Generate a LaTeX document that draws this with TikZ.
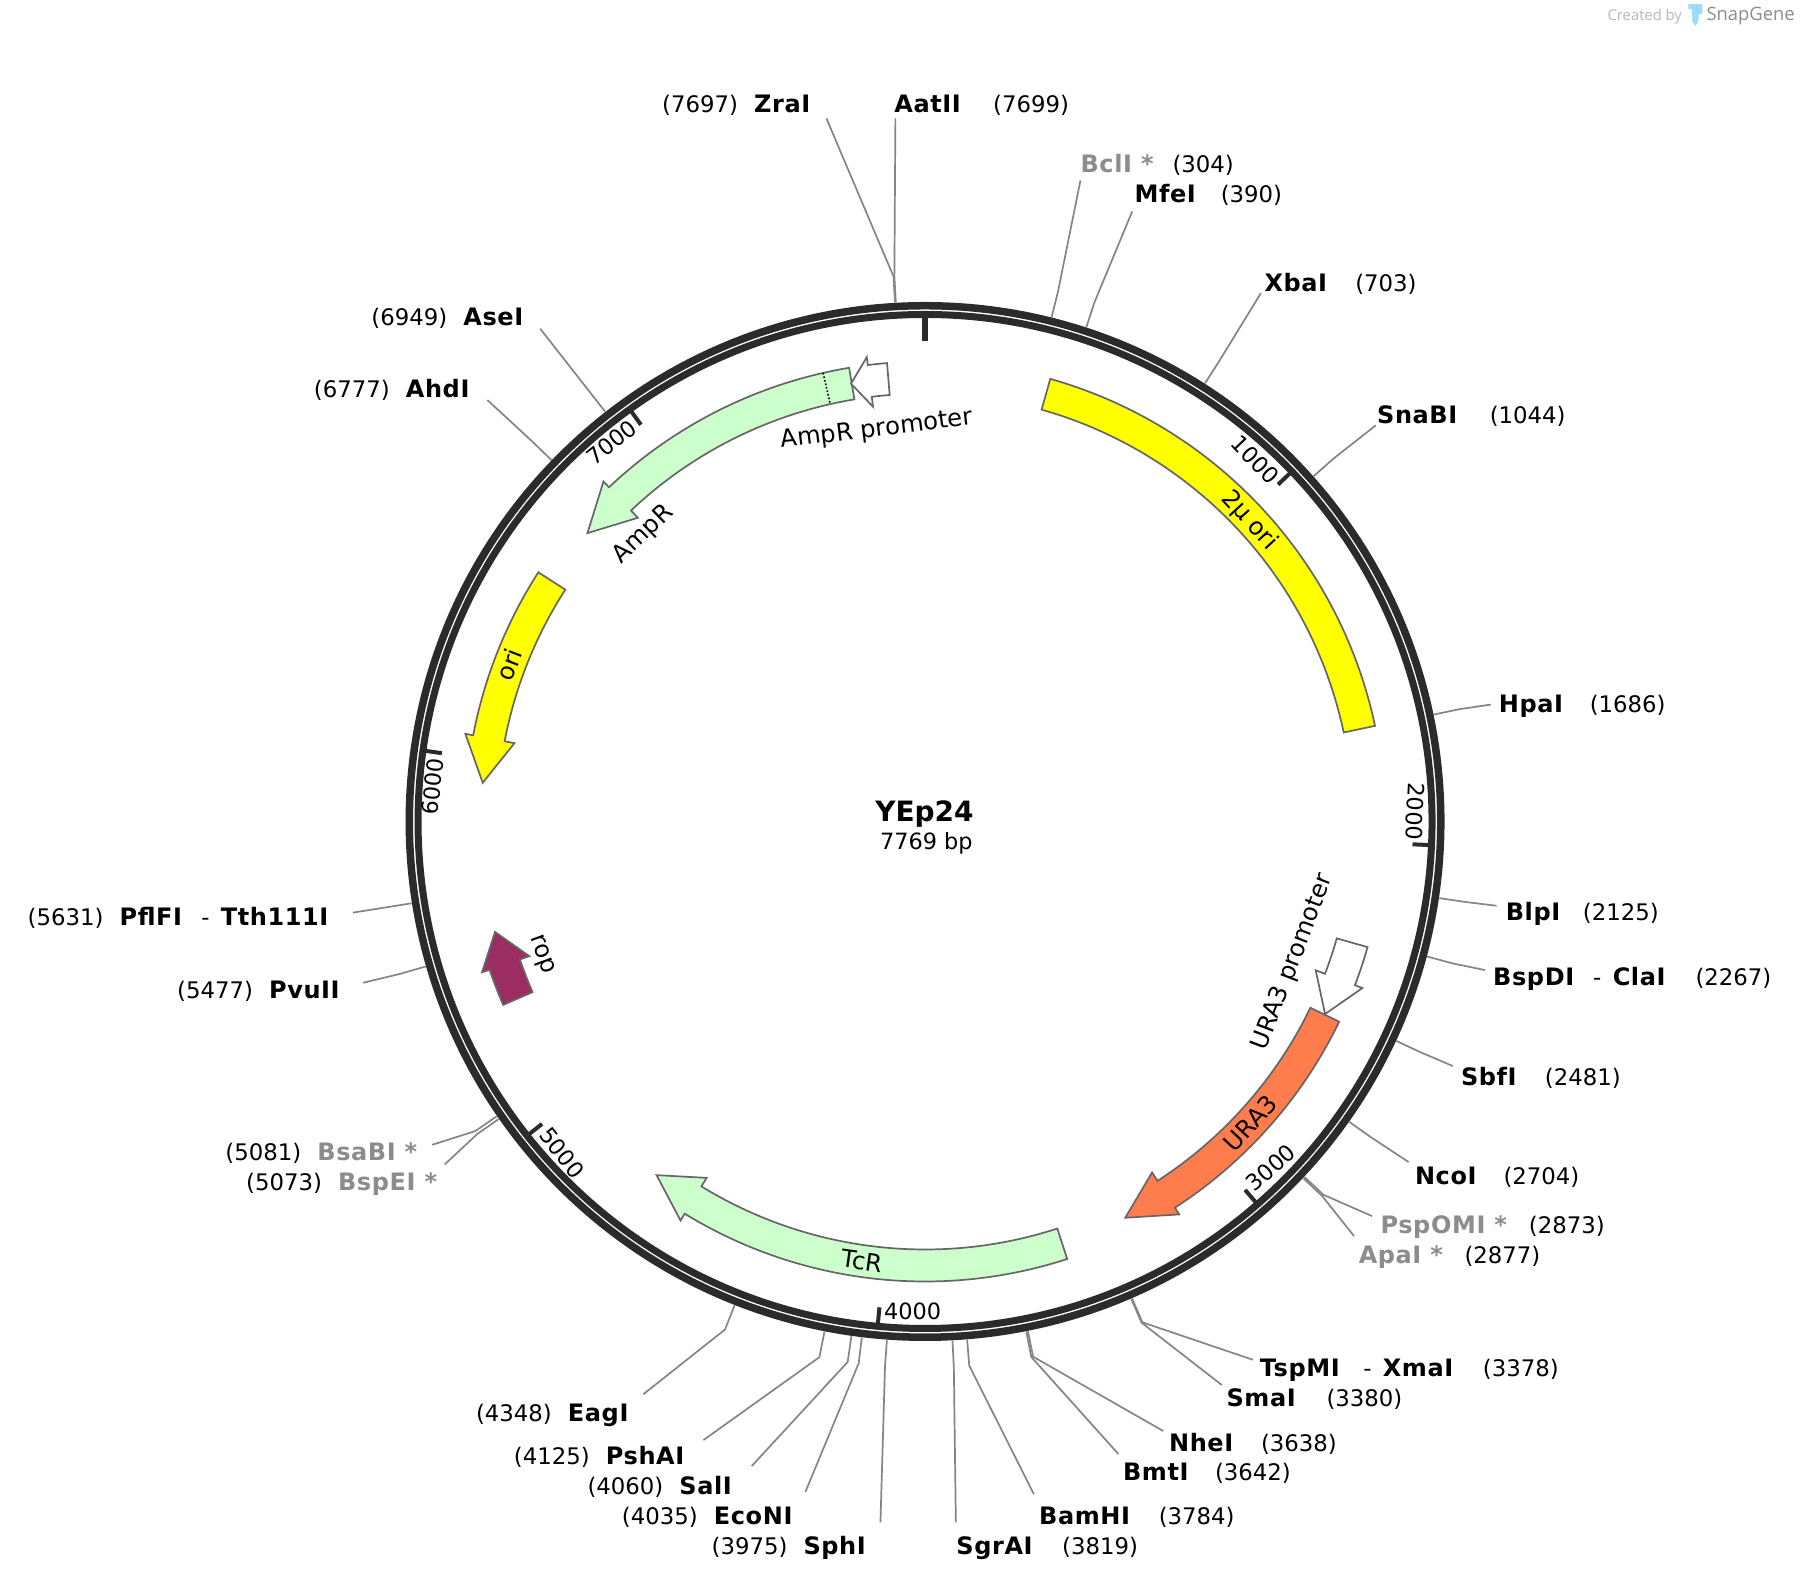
\documentclass[tikz,border=0pt]{standalone}
\usepackage{fontspec}
\setmainfont{DejaVu Sans}
\newfontfamily\enzfont[LetterSpace=2.5]{DejaVu Sans}
\newfontfamily\logofont{Open Sans}
\definecolor{ringc}{HTML}{2B2B2B}
\definecolor{linec}{HTML}{858585}
\definecolor{edgec}{HTML}{666666}
\definecolor{greyname}{HTML}{8C8C8C}
\definecolor{featgreen}{HTML}{CCFFCC}
\definecolor{featyellow}{HTML}{FFFF00}
\definecolor{featpurple}{HTML}{9C2D62}
\definecolor{featorange}{HTML}{FF7D4D}
\definecolor{logoblue}{HTML}{9BDCFA}
\tikzset{
  polar/.style={shift={(804.8,714.7)},x={(0pt,1pt)},y={(1pt,0pt)}},
  siteline/.style={draw=linec,line width=1.7pt,line join=round},
  featline/.style={draw=edgec,line width=1.7pt,line join=miter},
  ringline/.style={draw=ringc},
  tickline/.style={draw=ringc,line width=4pt},
  enz/.style={anchor=mid west,inner sep=0pt,xshift=-1.2pt,yshift=-4.7pt,font=\enzfont\fontsize{24}{26}\selectfont\bfseries},
  enzg/.style={enz,text=greyname},
  num/.style={anchor=mid west,inner sep=0pt,xshift=-1.2pt,yshift=-4.7pt,font=\fontsize{22.8}{26}\selectfont},
  ticktxt/.style={inner sep=0pt,font=\fontsize{22.4}{26}\selectfont},
  feattxt/.style={inner sep=0pt,font=\fontsize{24.3}{26}\selectfont},
}
\newcommand\site[4]{%
  \coordinate (#1E) at (#3,#4);
  \begin{scope}[polar]
    \coordinate (#1S) at ({0.046338*#2}:520);
    \coordinate (#1B) at ({0.046338*#2}:546);
  \end{scope}
  \draw[siteline] (#1S) -- (#1B) -- (#1E);}
\newcommand\gfeat[4]{%
  \draw[featline,fill=#4] (#1:460) arc[start angle=#1,end angle=#2,radius=460]
    -- (#2:468) -- (#3:444) -- (#2:418) -- (#2:428)
    arc[start angle=#2,end angle=#1,radius=428] -- cycle;}
\begin{document}
\begin{tikzpicture}[x=1.1494pt,y=-1.1494pt]
\useasboundingbox (0,0) rectangle (1566.03,1376.4);
\fill[white] (0,0) rectangle (1566.03,1376.4);
% restriction site lines
\site{zra}{7697}{719}{103}
\site{aat}{7699}{779}{103}
\site{bcl}{304}{940}{157}
\site{mfe}{390}{985}{184}
\site{xba}{703}{1097}{255}
\site{sna}{1044}{1197}{370}
\site{hpa}{1686}{1297}{613}
\site{blp}{2125}{1302}{788}
\site{bsp}{2267}{1292}{844}
\site{sbf}{2481}{1264}{927.5}
\site{nco}{2704}{1225.5}{1011}
\site{psp}{2873}{1193.7}{1058}
\site{apa}{2877}{1178}{1075.4}
\site{tsp}{3378}{1090}{1183}
\site{sma}{3380}{1063}{1205}
\site{nhe}{3638}{1012}{1245}
\site{bmt}{3642}{973}{1265}
\site{bam}{3784}{899.5}{1300}
\site{sgr}{3819}{831.6}{1324.4}
\site{sph}{3975}{766}{1324.4}
\site{eco}{4035}{700.7}{1298}
\site{sal}{4060}{654}{1275.5}
\site{psh}{4125}{612}{1252.9}
\site{eag}{4348}{559.7}{1213}
\site{bse}{5073}{387}{1013}
\site{bsa}{5081}{376}{996}
\site{pvu}{5477}{316}{855}
\site{pfl}{5631}{307}{794}
\site{ahd}{6777}{424}{348}
\site{ase}{6949}{470}{286}
% backbone, ticks and features
\begin{scope}[polar]
  \draw[ringline,line width=7.5pt] (0,0) circle[radius=515.75pt];
  \draw[ringline,line width=7pt] (0,0) circle[radius=507pt];
  \draw[ringc,line width=6pt] (0:505) -- (0:480);
  \foreach \p in {1000,2000,3000,4000,5000,6000,7000}
    \draw[tickline] ({0.046338*\p}:505) -- ({0.046338*\p}:488);
  \draw[featline,fill=featyellow] (15.8:460) arc[start angle=15.8,end angle=78,radius=460]
     -- (78:428) arc[start angle=78,end angle=15.8,radius=428] -- cycle;
  \gfeat{-9.5}{-43.4}{-49.5}{featgreen}
  \draw[black,line width=1.6pt,dotted] (-12.8:460) -- (-12.8:428);
  \gfeat{-4.74}{-7.15}{-9.6}{white}
  \gfeat{-57.2}{-79.2}{-85}{featyellow}
  \gfeat{246.5}{251.2}{255.6}{featpurple}
  \gfeat{162}{211.5}{217.2}{featgreen}
  \gfeat{115.8}{147.1}{153.2}{featorange}
  \gfeat{105.85}{110.85}{115.7}{white}
\end{scope}
% tick labels
\node[ticktxt,rotate=-46.3] (t1) at (1092,400) {1000};
\node[ticktxt,rotate=-92.7] (t2) at (1231,706) {2000};
\node[ticktxt,rotate=41] (t3) at (1105.6,1016) {3000};
\node[ticktxt] (t4) at (794,1141) {4000};
\node[ticktxt,rotate=-51.7] (t5) at (489,1003) {5000};
\node[ticktxt,rotate=84] (t6) at (376.5,684.5) {6000};
\node[ticktxt,rotate=38] (t7) at (532,385) {7000};
% feature labels
\node[feattxt,rotate=-47.4] (f1) at (1087,453) {2µ ori};
\node[feattxt,rotate=69] (f2) at (443,578) {ori};
\node[feattxt,rotate=47.2] (f3) at (1088,977) {URA3};
\node[feattxt,rotate=-8] (f4) at (750,1097) {TcR};
\node[feattxt,rotate=-70] (f5) at (471,831) {rop};
\node[feattxt,rotate=44] (f6) at (560,465) {AmpR};
\node[feattxt,rotate=7] (f7) at (763,374) {AmpR promoter};
\node[feattxt,rotate=69] (f8) at (1125,837) {URA3 promoter};
% centre
\node[inner sep=0pt,font=\fontsize{28}{30}\selectfont\bfseries] (title) at (804.3,708.5) {YEp24};
\node[inner sep=0pt,font=\fontsize{22.4}{26}\selectfont] (size) at (806,734) {7769 bp};
% enzyme labels
\node[num] (n1) at (577,91) {(7697)}; \node[enz] (e1) at (657,91) {ZraI};
\node[enz] (e2) at (779,91) {AatII}; \node[num] (n2) at (865,91) {(7699)};
\node[enzg] (e3) at (941,144) {BclI *}; \node[num] (n3) at (1021,144) {(304)};
\node[enz] (e4) at (988,170) {MfeI}; \node[num] (n4) at (1063,170) {(390)};
\node[enz] (e5) at (1101,247) {XbaI}; \node[num] (n5) at (1180,247) {(703)};
\node[enz] (e6) at (1199,362) {SnaBI}; \node[num] (n6) at (1297,362) {(1044)};
\node[enz] (e7) at (1305,613) {HpaI}; \node[num] (n7) at (1384,613) {(1686)};
\node[enz] (e8) at (1311,794) {BlpI}; \node[num] (n8) at (1378,794) {(2125)};
\node[enz] (e9) at (1300,851) {BspDI}; \node[num] (d9) at (1387,851) {-}; \node[enz] (e9b) at (1404,851) {ClaI}; \node[num] (n9) at (1476,851) {(2267)};
\node[enz] (e10) at (1272,938) {SbfI}; \node[num] (n10) at (1345,938) {(2481)};
\node[enz] (e11) at (1232,1024) {NcoI}; \node[num] (n11) at (1309,1024) {(2704)};
\node[enzg] (e12) at (1202,1067) {PspOMI *}; \node[num] (n12) at (1331,1067) {(2873)};
\node[enzg] (e13) at (1183,1093) {ApaI *}; \node[num] (n13) at (1275,1093) {(2877)};
\node[enz] (e14) at (1097,1191) {TspMI}; \node[num] (d14) at (1187,1191) {-}; \node[enz] (e14b) at (1204,1191) {XmaI}; \node[num] (n14) at (1291,1191) {(3378)};
\node[enz] (e15) at (1068,1217) {SmaI}; \node[num] (n15) at (1155,1217) {(3380)};
\node[enz] (e16) at (1018,1256) {NheI}; \node[num] (n16) at (1098,1256) {(3638)};
\node[enz] (e17) at (978,1282) {BmtI}; \node[num] (n17) at (1058,1282) {(3642)};
\node[enz] (e18) at (905,1320) {BamHI}; \node[num] (n18) at (1009,1320) {(3784)};
\node[enz] (e19) at (833,1346) {SgrAI}; \node[num] (n19) at (925,1346) {(3819)};
\node[num] (n20) at (620,1346) {(3975)}; \node[enz] (e20) at (700,1346) {SphI};
\node[num] (n21) at (542,1320) {(4035)}; \node[enz] (e21) at (622,1320) {EcoNI};
\node[num] (n22) at (512,1294) {(4060)}; \node[enz] (e22) at (592,1294) {SalI};
\node[num] (n23) at (448,1268) {(4125)}; \node[enz] (e23) at (528,1268) {PshAI};
\node[num] (n24) at (415,1230) {(4348)}; \node[enz] (e24) at (495,1230) {EagI};
\node[num] (n25) at (215,1029) {(5073)}; \node[enzg] (e25) at (295,1029) {BspEI *};
\node[num] (n26) at (197,1003) {(5081)}; \node[enzg] (e26) at (277,1003) {BsaBI *};
\node[num] (n27) at (155,862) {(5477)}; \node[enz] (e27) at (235,862) {PvuII};
\node[num] (n28) at (25,799) {(5631)}; \node[enz] (e28) at (105,799) {PflFI}; \node[num] (d28) at (176,799) {-}; \node[enz] (e28b) at (193,799) {Tth111I};
\node[num] (n29) at (274,339) {(6777)}; \node[enz] (e29) at (354,339) {AhdI};
\node[num] (n30) at (324,277) {(6949)}; \node[enz] (e30) at (404,277) {AseI};
% logo
\fill[logoblue] (1469,3.6) -- (1481,3.6) -- (1481,12) -- (1478,12) -- (1477.5,19) -- (1475,22.5) -- (1472.5,19) -- (1472,8) -- (1469,8) -- cycle;
\node[anchor=mid west,inner sep=0pt,text=black!28,font=\logofont\fontsize{14.8}{16}\selectfont] (cb) at (1398.5,15.5) {Created by};
\node[anchor=mid west,inner sep=0pt,text=black!45,font=\logofont\fontsize{18.4}{20}\selectfont] (sg) at (1484.5,15.5) {SnapGene};
\end{tikzpicture}
\end{document}
